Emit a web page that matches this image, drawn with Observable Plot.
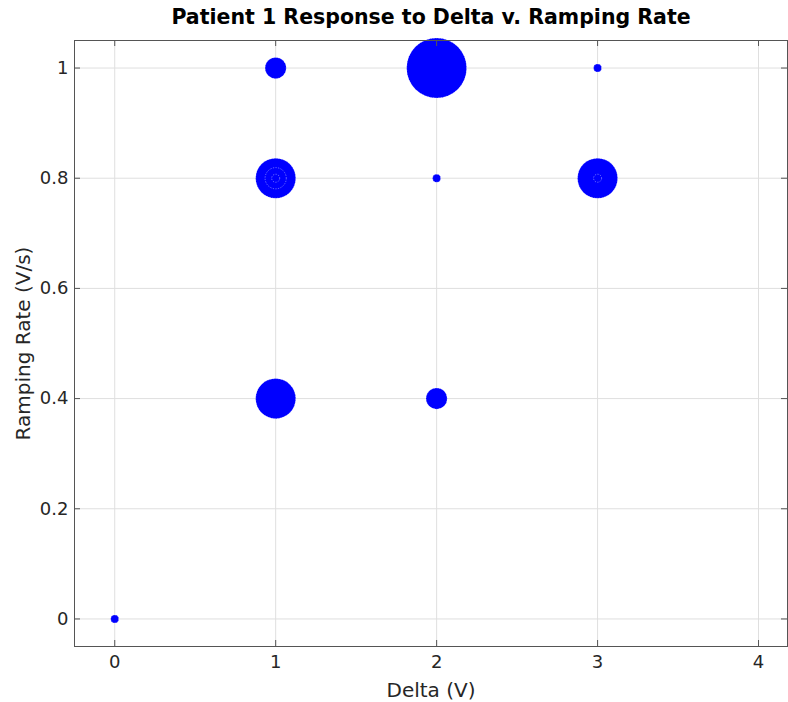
<!DOCTYPE html>
<html>
<head>
<meta charset="utf-8">
<script src="https://cdn.jsdelivr.net/npm/d3@7"></script>
<script src="https://cdn.jsdelivr.net/npm/@observablehq/plot@0.6"></script>
<style>
  html, body { margin: 0; padding: 0; background: #fff; }
  #wrap { width: 788px; height: 702px; position: relative; font-family: "DejaVu Sans", Verdana, sans-serif; }
  #title { position: absolute; z-index: 2; top: 0; left: 74px; width: 714px; height: 34px; line-height: 34px; text-align: center;
           font-weight: bold; font-size: 20.5px; color: #000; }
  #chart { position: absolute; z-index: 1; top: 0; left: 0; }
</style>
</head>
<body>
<div id="wrap">
  <div id="title">Patient 1 Response to Delta v. Ramping Rate</div>
  <div id="chart"></div>
</div>
<script>
// Data
const delta    = [0, 1, 2, 3, 1, 1, 1, 2, 3, 3, 1, 2];
const rate     = [0, 1, 1, 1, 0.8, 0.8, 0.8, 0.8, 0.8, 0.8, 0.4, 0.4];
const response = [1, 7, 56, 1, 25, 7, 1, 1, 25, 1, 25, 7];
const xTicks = [0, 1, 2, 3, 4];
const yTicks = [0, 0.2, 0.4, 0.6, 0.8, 1];
const xLabel = "Delta (V)";
const yLabel = "Ramping Rate (V/s)";

const points = delta.map((d, i) => ({delta: d, rate: rate[i], response: response[i]}));

const W = 788, H = 702;
const mt = 40, mb = 56, ml = 74, mr = 1;
const innerH = H - mt - mb, innerW = W - ml - mr;
const axisColor = "#555";
const textColor = "#262626";

const plot = Plot.plot({
  width: W,
  height: H,
  marginTop: mt,
  marginBottom: mb,
  marginLeft: ml,
  marginRight: mr,
  style: {fontFamily: "DejaVu Sans, Verdana, sans-serif", fontSize: "18px", color: textColor, background: "transparent"},
  x: {domain: [-0.25, 4.18]},
  y: {domain: [-0.05, 1.05]},
  r: {type: "sqrt", domain: [0, 56], range: [0, 30]},
  marks: [
    Plot.gridX(xTicks, {stroke: "#dfdfdf", strokeOpacity: 1}),
    Plot.gridY(yTicks, {stroke: "#dfdfdf", strokeOpacity: 1}),
    Plot.dot(points, {x: "delta", y: "rate", r: "response", fill: "#0000ff",
      stroke: "white", strokeWidth: 0.5, strokeOpacity: 0.8, strokeDasharray: "1.3,1.3"}),
    Plot.frame({stroke: axisColor, strokeWidth: 1}),
    Plot.tickX(xTicks, {x: d => d, insetTop: innerH - 6, stroke: axisColor}),
    Plot.tickX(xTicks, {x: d => d, insetBottom: innerH - 6, stroke: axisColor}),
    Plot.tickY(yTicks, {y: d => d, insetRight: innerW - 6, stroke: axisColor}),
    Plot.tickY(yTicks, {y: d => d, insetLeft: innerW - 6, stroke: axisColor}),
    Plot.axisX(xTicks, {tickSize: 0, tickPadding: 9, fontSize: 18, fill: textColor,
      tickFormat: d => String(d),
      label: xLabel, labelAnchor: "center", labelArrow: "none", labelOffset: 50}),
    Plot.axisY(yTicks, {tickSize: 0, tickPadding: 6, fontSize: 18, fill: textColor,
      tickFormat: d => String(d),
      label: yLabel, labelAnchor: "center", labelArrow: "none", labelOffset: 59})
  ]
});
// axis label font sizing
plot.querySelectorAll("[aria-label$='axis label'] text, [aria-label$='axis label']").forEach(n => n.setAttribute("font-size", "20"));
document.getElementById("chart").appendChild(plot);
</script>
</body>
</html>
